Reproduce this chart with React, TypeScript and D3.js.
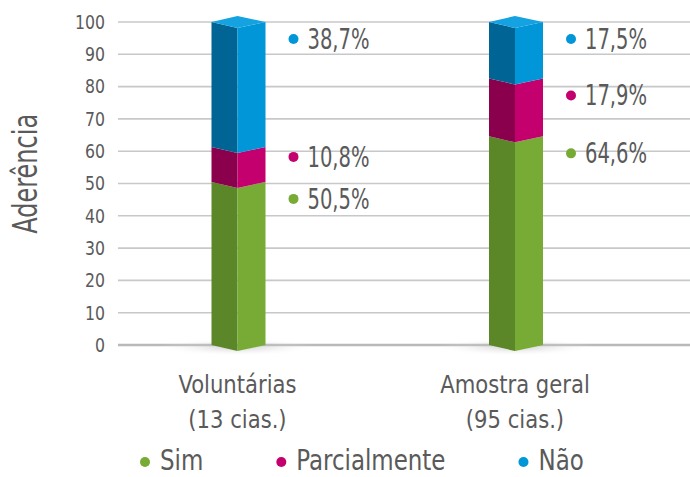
import React, { useEffect, useRef } from "react";
import * as d3 from "d3";

const categories = ["Voluntárias|(13 cias.)", "Amostra geral|(95 cias.)"];
const seriesNames = ["Sim", "Parcialmente", "Não"];
const simValues = [50.5, 64.6];
const parcialValues = [10.8, 17.9];
const naoValues = [38.7, 17.5];
const yTicks = [0, 10, 20, 30, 40, 50, 60, 70, 80, 90, 100];
const valueLabels = [
  ["50,5%", "10,8%", "38,7%"],
  ["64,6%", "17,9%", "17,5%"],
];

const lightColors = ["#77ab35", "#c4006f", "#0096d8"];
const darkColors = ["#5b8729", "#8a004c", "#006595"];
const topColor = "#14a2e0";

const W = 690;
const H = 477;
const FONT = "'DejaVu Sans Condensed', 'DejaVu Sans', sans-serif";
const TEXT = "#5a5a5a";

// text squeezed horizontally to mimic the narrow face of the original
function narrowText(parent: any, x: number, y: number, str: string, size: number, sx: number, anchor = "start", rotate = 0) {
  const g = parent.append("g").attr("transform", `translate(${x},${y}) rotate(${rotate}) scale(${sx},1)`);
  return g
    .append("text")
    .attr("text-anchor", anchor)
    .attr("font-family", FONT)
    .attr("font-size", size)
    .attr("fill", TEXT)
    .text(str);
}

export default function App() {
  const svgRef = useRef<SVGSVGElement>(null);

  useEffect(() => {
    const svg = d3.select(svgRef.current);
    svg.selectAll("*").remove();

    const table = categories.map((c, i) => ({
      cat: c,
      Sim: simValues[i],
      Parcialmente: parcialValues[i],
      Não: naoValues[i],
    }));
    const stacked = d3.stack<any>().keys(seriesNames)(table);

    const y = d3.scaleLinear().domain([0, 100]).range([345, 22]);
    const xBar = d3.scalePoint<string>().domain(categories).range([237.5, 515]);
    const gridLeft = 118;
    const halfL = 26;
    const halfR = 28;
    const dip = 6;

    const defs = svg.append("defs");
    const grad = defs
      .append("radialGradient")
      .attr("id", "shadow")
      .attr("cx", "50%")
      .attr("cy", "50%")
      .attr("r", "50%");
    grad.append("stop").attr("offset", "0%").attr("stop-color", "#9a9a9a").attr("stop-opacity", 0.5);
    grad.append("stop").attr("offset", "100%").attr("stop-color", "#ffffff").attr("stop-opacity", 0);

    // gridlines
    svg
      .append("g")
      .selectAll("line")
      .data(yTicks)
      .join("line")
      .attr("x1", gridLeft)
      .attr("x2", W)
      .attr("y1", (d) => y(d))
      .attr("y2", (d) => y(d))
      .attr("stroke", (d) => (d === 0 ? "#b9b9b9" : "#c6c8ca"))
      .attr("stroke-width", (d) => (d === 0 ? 2.5 : 1.6));

    // tick labels
    const gTicks = svg.append("g");
    yTicks.forEach((t) => {
      narrowText(gTicks, 105, y(t), String(t), 19, 0.92, "end").attr("dy", "0.36em");
    });

    // axis title
    narrowText(svg, 37, y(53), "Aderência", 33, 0.81, "middle", -90);

    // base shadows
    svg
      .append("g")
      .selectAll("ellipse")
      .data(categories)
      .join("ellipse")
      .attr("cx", (d) => xBar(d)!)
      .attr("cy", y(0) + 2)
      .attr("rx", 80)
      .attr("ry", 9)
      .attr("fill", "url(#shadow)");

    // bars
    const gBars = svg.append("g");
    const pts = (arr: number[][]) => arr.map((p) => p.join(",")).join(" ");
    stacked.forEach((layer, si) => {
      layer.forEach((seg, ci) => {
        const cx = xBar(categories[ci])!;
        const xl = cx - halfL;
        const xr = cx + halfR;
        const yt = y(seg[1]);
        const yb = y(seg[0]);
        gBars
          .append("polygon")
          .attr("points", pts([[xl, yt], [cx, yt + dip], [cx, yb + dip], [xl, yb]]))
          .attr("fill", darkColors[si]);
        gBars
          .append("polygon")
          .attr("points", pts([[cx, yt + dip], [xr, yt], [xr, yb], [cx, yb + dip]]))
          .attr("fill", lightColors[si]);
        if (si === stacked.length - 1) {
          gBars
            .append("polygon")
            .attr("points", pts([[xl, yt], [cx, yt - dip], [xr, yt], [cx, yt + dip]]))
            .attr("fill", topColor);
        }
      });
    });

    // value labels
    const gLab = svg.append("g");
    categories.forEach((c, ci) => {
      let prev = Infinity;
      stacked.forEach((layer, si) => {
        let ly = y(layer[ci][1]) + 17;
        ly = Math.min(ly, prev - 42);
        prev = ly;
        const dx = xBar(c)! + 56;
        gLab.append("circle").attr("cx", dx).attr("cy", ly).attr("r", 5).attr("fill", lightColors[si]);
        narrowText(gLab, dx + 14, ly, valueLabels[ci][si], 27.5, 0.79).attr("dy", "0.36em");
      });
    });

    // category labels
    const gCat = svg.append("g");
    categories.forEach((c) => {
      c.split("|").forEach((ln, i) => {
        narrowText(gCat, xBar(c)!, 393 + i * 35, ln, 25, 0.94, "middle");
      });
    });

    // legend
    const gLeg = svg.append("g");
    let lx = 145;
    seriesNames.forEach((name, i) => {
      gLeg.append("circle").attr("cx", lx).attr("cy", 462).attr("r", 5).attr("fill", lightColors[i]);
      const t = narrowText(gLeg, lx + 15, 470, name, 29, 0.88);
      const w = (t.node() as SVGTextElement).getComputedTextLength() * 0.88;
      lx = lx + 15 + w + 78;
    });
  }, []);

  return (
    <svg
      ref={svgRef}
      width={W}
      height={H}
      style={{ position: "absolute", left: 0, top: 0, background: "#fff" }}
    />
  );
}
